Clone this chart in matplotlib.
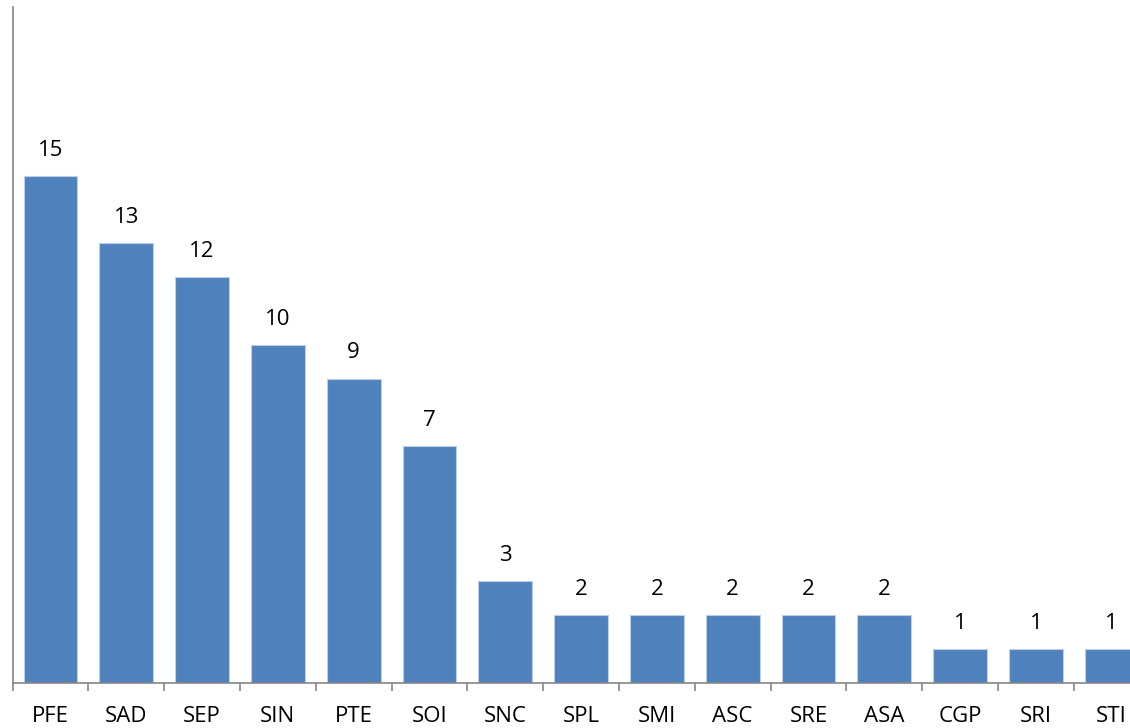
import matplotlib
matplotlib.use("Agg")
import matplotlib.pyplot as plt
import numpy as np

# Data
categories = ['PFE', 'SAD', 'SEP', 'SIN', 'PTE', 'SOI', 'SNC', 'SPL',
              'SMI', 'ASC', 'SRE', 'ASA', 'CGP', 'SRI', 'STI']
counts = [15, 13, 12, 10, 9, 7, 3, 2, 2, 2, 2, 2, 1, 1, 1]

plt.rcParams['font.family'] = ['Open Sans', 'DejaVu Sans']

fig = plt.figure(figsize=(11.3, 7.28), dpi=100)
# plot area runs a little past the right edge, like the source image
ax = fig.add_axes([0.0111, 0.0622, 1.0062, 0.9282])

x = np.arange(len(categories))
bars = ax.bar(x, counts, width=0.71, color='#4F81BD',
              edgecolor='#BCCFE6', linewidth=0.8)

for xi, v in zip(x, counts):
    ax.annotate(str(v), (xi, v), xytext=(0, 11), textcoords='offset points',
                ha='center', va='bottom', fontsize=16, color='black')

ax.set_xlim(-0.5, len(categories) - 0.5)
ax.set_ylim(0, 20)

# category ticks sit between the bars
ax.set_xticks(np.arange(len(categories) + 1) - 0.5)
ax.set_xticklabels([])
ax.set_xticks(x, minor=True)
ax.set_xticklabels(categories, minor=True, fontsize=16)
ax.tick_params(axis='x', which='major', length=6, width=1.2,
               color='#868686', direction='out')
ax.tick_params(axis='x', which='minor', length=0, pad=17)
ax.set_yticks([])

for side in ['top', 'right']:
    ax.spines[side].set_visible(False)
for side in ['left', 'bottom']:
    ax.spines[side].set_color('#868686')
    ax.spines[side].set_linewidth(1.2)

fig.savefig('out.png', dpi=100)
